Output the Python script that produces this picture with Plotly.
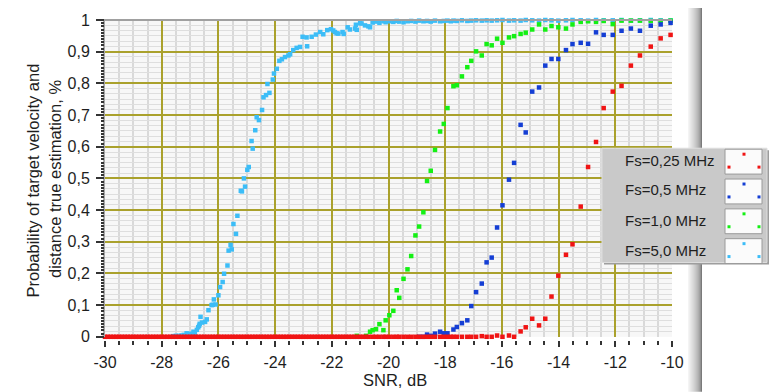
import plotly.graph_objects as go

# ---------------------------------------------------------------------------
# Data: probability of correct velocity/distance estimation vs SNR (dB)
# ---------------------------------------------------------------------------

# dense SNR samples of the low-SNR floor where every curve is still zero
snr_floor = [
    -30.0, -29.9, -29.8, -29.7, -29.6, -29.5, -29.4, -29.3, -29.2, -29.1,
    -29.0, -28.9, -28.8, -28.7, -28.6, -28.5, -28.4, -28.3, -28.2, -28.1,
    -28.0, -27.9, -27.8, -27.7, -27.6, -27.5, -27.4, -27.3, -27.2, -27.1,
    -27.0, -26.9, -26.8, -26.7, -26.6, -26.5, -26.4, -26.3, -26.2, -26.1,
    -26.0, -25.9, -25.8, -25.7, -25.6, -25.5, -25.4, -25.3, -25.2, -25.1,
    -25.0, -24.9, -24.8, -24.7, -24.6, -24.5, -24.4, -24.3, -24.2, -24.1,
    -24.0, -23.9, -23.8, -23.7, -23.6, -23.5, -23.4, -23.3, -23.2, -23.1,
    -23.0, -22.9, -22.8, -22.7, -22.6, -22.5, -22.4, -22.3, -22.2, -22.1,
    -22.0, -21.9, -21.8, -21.7, -21.6, -21.5, -21.4, -21.3, -21.2, -21.1,
    -21.0, -20.9, -20.8, -20.7,
]
p_floor = [
    0, 0, 0, 0, 0, 0, 0, 0, 0, 0, 0, 0, 0, 0, 0, 0, 0, 0, 0, 0,
    0, 0, 0, 0, 0, 0, 0, 0, 0, 0, 0, 0, 0, 0, 0, 0, 0, 0, 0, 0,
    0, 0, 0, 0, 0, 0, 0, 0, 0, 0, 0, 0, 0, 0, 0, 0, 0, 0, 0, 0,
    0, 0, 0, 0, 0, 0, 0, 0, 0, 0, 0, 0, 0, 0, 0, 0, 0, 0, 0, 0,
    0, 0, 0, 0, 0, 0, 0, 0, 0, 0, 0, 0, 0, 0,
]

# Fs = 0,25 MHz
snr_025 = snr_floor + [
    -20.56, -20.44, -20.32, -20.18, -20.10, -19.97, -19.83, -19.71, -19.62, -19.47,
    -19.33, -19.20, -19.05, -18.92, -18.77, -18.64, -18.51, -18.36, -18.18, -18.05,
    -17.92, -17.80, -17.71, -17.59, -17.41, -17.22, -17.08, -16.91, -16.71, -16.54,
    -16.36, -16.17, -15.98, -15.75, -15.57, -15.34, -15.16, -14.93, -14.69, -14.47,
    -14.25, -14.01, -13.74, -13.51, -13.22, -12.96, -12.68, -12.41, -12.09, -11.78,
    -11.45, -11.13, -10.75, -10.40, -10.05,
]
p_025 = p_floor + [
    0, 0, 0, 0, 0, 0, 0, 0, 0, 0,
    0, 0, 0, 0, 0, 0, 0, 0, 0, 0,
    0, 0, 0, 0, 0, 0, 0, 0, 0.002, 0,
    0, 0.004, 0, 0.004, 0, 0.017, 0.030, 0.057, 0.036, 0.057,
    0.127, 0.193, 0.259, 0.292, 0.411, 0.536, 0.615, 0.722, 0.774, 0.792,
    0.856, 0.888, 0.916, 0.942, 0.953,
]

# Fs = 0,5 MHz
snr_05 = [
    -18.92, -18.77, -18.64, -18.51, -18.36, -18.18, -18.05, -17.92, -17.71, -17.59,
    -17.41, -17.22, -17.08, -16.91, -16.71, -16.54, -16.36, -16.17, -15.98, -15.75,
    -15.57, -15.34, -15.16, -14.93, -14.69, -14.47, -14.25, -14.01, -13.74, -13.51,
    -13.22, -12.96, -12.68, -12.41, -12.09, -11.78, -11.45, -11.13, -10.75, -10.40,
    -10.05,
]
p_05 = [
    0, 0, 0.007, 0.003, 0.010, 0.016, 0.011, 0.011, 0.023, 0.031,
    0.043, 0.052, 0.097, 0.141, 0.168, 0.235, 0.250, 0.345, 0.415, 0.496,
    0.549, 0.669, 0.645, 0.774, 0.787, 0.856, 0.877, 0.877, 0.905, 0.924,
    0.928, 0.925, 0.961, 0.953, 0.953, 0.966, 0.973, 0.966, 0.982, 0.986,
    0.991,
]

# Fs = 1,0 MHz
snr_10 = [
    -21.12, -20.79, -20.65, -20.56, -20.44, -20.32, -20.18, -20.10, -19.97, -19.83,
    -19.71, -19.62, -19.47, -19.33, -19.20, -19.05, -18.92, -18.77, -18.64, -18.51,
    -18.36, -18.18, -18.05, -17.92, -17.71, -17.59, -17.41, -17.22, -17.08, -16.91,
    -16.71, -16.54, -16.36, -16.17, -15.98, -15.75, -15.57, -15.34, -15.16, -14.93,
    -14.69, -14.47, -14.25, -14.01, -13.74, -13.51, -13.22, -12.96, -12.68, -12.41,
    -12.09, -11.78, -11.45, -11.13, -10.75, -10.40, -10.05,
]
p_10 = [
    0.003, 0.003, 0.016, 0.021, 0.024, 0.040, 0.021, 0.052, 0.068, 0.082,
    0.147, 0.123, 0.183, 0.213, 0.255, 0.320, 0.348, 0.393, 0.492, 0.524,
    0.590, 0.648, 0.672, 0.722, 0.791, 0.794, 0.822, 0.851, 0.871, 0.901,
    0.888, 0.924, 0.920, 0.941, 0.928, 0.945, 0.949, 0.956, 0.960, 0.970,
    0.986, 0.970, 0.981, 0.977, 0.973, 0.986, 0.994, 0.996, 0.994, 0.997,
    0.987, 0.998, 0.998, 0.998, 0.997, 0.997, 0.998,
]

# Fs = 5,0 MHz
snr_50 = [
    -27.60, -27.50, -27.40, -27.30, -27.22, -27.12, -27.05, -26.97, -26.88, -26.83,
    -26.76, -26.71, -26.68, -26.66, -26.63, -26.58, -26.47, -26.41, -26.35, -26.24,
    -26.20, -26.16, -26.10, -26.00, -25.94, -25.85, -25.80, -25.68, -25.64, -25.57,
    -25.53, -25.47, -25.38, -25.33, -25.21, -25.17, -25.10, -25.06, -24.98, -24.93,
    -24.83, -24.79, -24.70, -24.65, -24.57, -24.46, -24.41, -24.32, -24.27, -24.20,
    -24.08, -24.04, -23.94, -23.85, -23.76, -23.65, -23.53, -23.47, -23.36, -23.24,
    -23.12, -23.03, -22.89, -22.87, -22.71, -22.56, -22.41, -22.30, -22.16, -22.03,
    -21.95, -21.89, -21.83, -21.77, -21.62, -21.58, -21.44, -21.36, -21.18, -21.15,
    -21.12, -21.00, -20.95, -20.83, -20.71, -20.65, -20.56, -20.44, -20.32, -20.18,
    -20.10, -19.97, -19.83, -19.71, -19.62, -19.47, -19.33, -19.20, -19.05, -18.92,
    -18.77, -18.64, -18.51, -18.36, -18.18, -18.05, -17.92, -17.80, -17.71, -17.59,
    -17.41, -17.22, -17.08, -16.91, -16.71, -16.54, -16.36, -16.17, -15.98, -15.75,
    -15.57, -15.34, -15.16, -14.93, -14.69, -14.47, -14.25, -14.01, -13.74, -13.51,
    -13.22, -12.96, -12.68, -12.41, -12.09, -11.78, -11.45, -11.13, -10.75, -10.40,
    -10.05,
]
p_50 = [
    0.002, 0.003, 0.003, 0.004, 0.006, 0.011, 0.008, 0.010, 0.016, 0.012,
    0.022, 0.030, 0.035, 0.041, 0.063, 0.045, 0.047, 0.055, 0.084, 0.100,
    0.101, 0.118, 0.102, 0.131, 0.157, 0.173, 0.199, 0.225, 0.272, 0.290,
    0.276, 0.356, 0.325, 0.382, 0.461, 0.459, 0.500, 0.474, 0.527, 0.536,
    0.618, 0.594, 0.652, 0.693, 0.684, 0.716, 0.756, 0.763, 0.798, 0.770,
    0.812, 0.831, 0.846, 0.871, 0.876, 0.883, 0.888, 0.892, 0.905, 0.912,
    0.915, 0.947, 0.945, 0.917, 0.947, 0.954, 0.962, 0.955, 0.968, 0.971,
    0.967, 0.962, 0.958, 0.957, 0.962, 0.956, 0.977, 0.970, 0.973, 0.985,
    0.969, 0.990, 0.989, 0.983, 0.980, 0.977, 0.992, 0.995, 0.991, 0.996,
    0.993, 0.996, 0.994, 0.997, 0.995, 0.993, 0.996, 0.997, 0.995, 0.998,
    0.996, 0.997, 0.995, 0.998, 0.996, 0.997, 0.998, 0.996, 0.998, 0.997,
    0.999, 0.997, 0.998, 0.999, 0.998, 0.999, 0.998, 0.999, 1.000, 0.998,
    0.999, 0.998, 1.000, 0.999, 0.998, 1.000, 0.999, 0.998, 0.999, 1.000,
    0.999, 0.998, 1.000, 0.999, 0.999, 1.000, 0.998, 0.999, 1.000, 0.999,
    0.999,
]

labels = ["Fs=0,25 MHz", "Fs=0,5 MHz", "Fs=1,0 MHz", "Fs=5,0 MHz"]
colors = ["#f01414", "#143ed4", "#14f014", "#3cbdf7"]

x_ticks = [-30, -28, -26, -24, -22, -20, -18, -16, -14, -12, -10]
x_ticktext = ["-30", "-28", "-26", "-24", "-22", "-20", "-18", "-16", "-14", "-12", "-10"]
y_ticks = [0, 0.1, 0.2, 0.3, 0.4, 0.5, 0.6, 0.7, 0.8, 0.9, 1]
y_ticktext = ["0", "0,1", "0,2", "0,3", "0,4", "0,5", "0,6", "0,7", "0,8", "0,9", "1"]

# ---------------------------------------------------------------------------
# Figure geometry (pixels)
# ---------------------------------------------------------------------------
W, H = 773, 392
ML, MR, MT, MB = 105, 101, 18, 40
PW, PH = W - ML - MR, H - MT - MB
PLOT_BOTTOM = 336.7


def px(x):
    return (x - ML) / PW


def py(y):
    return (H - MB - y) / PH


FONT = "Liberation Sans, Arial, sans-serif"
TXT = "#1e1e1e"
OLIVE = "#aaa12c"
TICK_SIZE = 16
TITLE_SIZE = 16.5
LEGEND_SIZE = 15

fig = go.Figure()

series = [
    (snr_50, p_50, 3, "y"),
    (snr_10, p_10, 2, "y"),
    (snr_05, p_05, 1, "y"),
    (snr_025, p_025, 0, "y2"),
]
for sx, sy, k, yref in series:
    fig.add_trace(go.Scatter(
        x=sx, y=sy, mode="markers", name=labels[k], yaxis=yref,
        marker=dict(symbol="square", size=4.5, color=colors[k], line=dict(width=0)),
        cliponaxis=False, showlegend=False,
    ))

fig.update_layout(
    width=W, height=H,
    margin=dict(l=ML, r=MR, t=MT, b=MB),
    paper_bgcolor="white",
    plot_bgcolor="#f7f7f7",
    font=dict(family=FONT, size=TICK_SIZE, color=TXT),
    xaxis=dict(
        range=[-30, -10], anchor="free", position=py(340),
        tickvals=x_ticks, ticktext=x_ticktext,
        ticks="outside", ticklen=6, tickwidth=2, tickcolor="#333",
        ticklabelstandoff=2,
        showline=False, zeroline=False,
        showgrid=True, gridcolor=OLIVE, gridwidth=2,
        tickfont=dict(family=FONT, size=TICK_SIZE, color=TXT),
        minor=dict(dtick=0.5, tick0=-30, ticks="outside", ticklen=4, tickwidth=2,
                   tickcolor="#333", showgrid=True, gridcolor="#d9d9d9", gridwidth=2),
    ),
    yaxis=dict(
        range=[0, 1], domain=[py(PLOT_BOTTOM), 1],
        tickvals=y_ticks, ticktext=y_ticktext,
        ticks="outside", ticklen=7, tickwidth=1.5, tickcolor="#333",
        ticklabelstandoff=3,
        showline=True, linecolor="#a8a8a8", linewidth=2, zeroline=False,
        showgrid=True, gridcolor=OLIVE, gridwidth=2,
        tickfont=dict(family=FONT, size=TICK_SIZE, color=TXT),
        minor=dict(dtick=1 / 60, tick0=0, showgrid=True, gridcolor="#dedede", gridwidth=1),
    ),
    yaxis2=dict(
        range=[0, 1], overlaying="y", anchor="x", side="left",
        dtick=0.01, ticks="outside", ticklen=3, tickwidth=1.5, tickcolor="#333",
        showticklabels=False, showgrid=False, zeroline=False, showline=False,
    ),
)

shapes = []
# top border of the plot area
shapes.append(dict(type="line", xref="paper", yref="paper", x0=px(104), x1=px(672),
                   y0=1, y1=1, line=dict(color="#a0a0a0", width=2), layer="above"))

# vertical panel separator with a shaded bevel
bevel = ["#f4f4f4", "#eeeeee", "#e8e8e8", "#e2e2e2", "#dcdcdc", "#d6d6d6", "#cfcfcf",
         "#c8c8c8", "#c0c0c0", "#b8b8b8", "#aeaeae", "#a2a2a2", "#939393", "#7a7a7a"]
for i, c in enumerate(bevel):
    shapes.append(dict(type="rect", xref="paper", yref="paper",
                       x0=px(688 + i), x1=px(689 + i), y0=py(392), y1=py(6),
                       fillcolor=c, line=dict(width=0), layer="above"))

# legend panel
LX0, LX1, LY0, LY1 = 602, 767, 147, 262
shapes.append(dict(type="rect", xref="paper", yref="paper",
                   x0=px(LX0 + 2), x1=px(LX1 + 2), y0=py(LY1 + 2), y1=py(LY0 + 2),
                   fillcolor="#9c9c9c", line=dict(width=0), layer="above"))
shapes.append(dict(type="rect", xref="paper", yref="paper",
                   x0=px(LX0), x1=px(LX1), y0=py(LY1), y1=py(LY0),
                   fillcolor="#c9c9c9", line=dict(color="#dedede", width=1), layer="above"))

row_y = [159, 189, 219.5, 250]
sw_top = [148, 178, 208, 238]
annotations = []
for k in range(4):
    t = sw_top[k]
    shapes.append(dict(type="rect", xref="paper", yref="paper",
                       x0=px(725), x1=px(762), y0=py(t + 25), y1=py(t),
                       fillcolor="#fbfbfb", line=dict(color="#9a9a9a", width=1), layer="above"))
    for (dx, dy) in [(744, t + 5), (729, t + 18), (759, t + 18)]:
        shapes.append(dict(type="rect", xref="paper", yref="paper",
                           x0=px(dx - 1.5), x1=px(dx + 1.5), y0=py(dy + 1.5), y1=py(dy - 1.5),
                           fillcolor=colors[k], line=dict(width=0), layer="above"))
    annotations.append(dict(text=labels[k], xref="paper", yref="paper",
                            x=px(623), y=py(row_y[k]), xanchor="left", yanchor="middle",
                            showarrow=False, font=dict(family=FONT, size=LEGEND_SIZE, color=TXT)))

# axis titles
annotations.append(dict(text="SNR, dB", xref="paper", yref="paper",
                        x=px(395), y=py(380), xanchor="center", yanchor="middle",
                        showarrow=False, font=dict(family=FONT, size=TITLE_SIZE, color=TXT)))
annotations.append(dict(text="Probability of target velocity and", xref="paper", yref="paper",
                        x=px(33.5), y=py(180), xanchor="center", yanchor="middle",
                        textangle=-90, showarrow=False,
                        font=dict(family=FONT, size=TITLE_SIZE, color=TXT)))
annotations.append(dict(text="distance true estimation, %", xref="paper", yref="paper",
                        x=px(55), y=py(178), xanchor="center", yanchor="middle",
                        textangle=-90, showarrow=False,
                        font=dict(family=FONT, size=TITLE_SIZE, color=TXT)))

fig.update_layout(shapes=shapes, annotations=annotations)

fig.write_html("out.html")
